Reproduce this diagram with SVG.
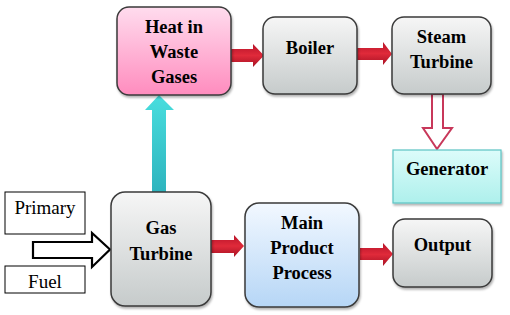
<svg xmlns="http://www.w3.org/2000/svg" width="510" height="315" viewBox="0 0 510 315">
<defs>
<linearGradient id="gGray" x1="0" y1="0" x2="0" y2="1"><stop offset="0" stop-color="#f6f6f6"/><stop offset="1" stop-color="#c6cbcb"/></linearGradient>
<linearGradient id="gPink" x1="0" y1="0" x2="0" y2="1"><stop offset="0" stop-color="#ffdcee"/><stop offset="1" stop-color="#ff8cbe"/></linearGradient>
<linearGradient id="gBlue" x1="0" y1="0" x2="0" y2="1"><stop offset="0" stop-color="#f2f8ff"/><stop offset="1" stop-color="#b6d6f6"/></linearGradient>
<linearGradient id="gCyanBox" x1="0" y1="0" x2="0" y2="1"><stop offset="0" stop-color="#dcfcfa"/><stop offset="1" stop-color="#aef0ec"/></linearGradient>
<linearGradient id="gCyan" x1="0" y1="0" x2="0" y2="1"><stop offset="0" stop-color="#48dede"/><stop offset="1" stop-color="#2eb4be"/></linearGradient>
<linearGradient id="gRed" x1="0" y1="0" x2="0" y2="1"><stop offset="0" stop-color="#b8142a"/><stop offset="0.5" stop-color="#e02a3a"/><stop offset="1" stop-color="#a81224"/></linearGradient>
<filter id="sh" x="-10%" y="-10%" width="130%" height="130%"><feDropShadow dx="1" dy="2" stdDeviation="1.2" flood-color="#000" flood-opacity="0.3"/></filter>
</defs>
<style>
.box{stroke:#3a3a3a;stroke-width:1.5;filter:url(#sh)}
.gray{fill:url(#gGray)}
text{font-family:'Liberation Serif','Times New Roman',Tinos,'DejaVu Serif',serif}
.t{font-weight:bold;font-size:18.5px;fill:#000;text-anchor:middle}
.r{font-size:19px;fill:#000;text-anchor:middle}
.red{fill:url(#gRed)}
</style>
<g id="connectors">
<polygon class="red" points="231,49 253,49 253,44 264,55.5 253,67 253,62 231,62"/>
<polygon class="red" points="357,48 383,48 383,42 392,54 383,65 383,60 357,60"/>
<polygon class="red" points="211,240 234,240 234,235 244,246 234,257 234,253 211,253"/>
<polygon class="red" points="360,248 383,248 383,243 393,254 383,266 383,260 360,260"/>
<polygon fill="url(#gCyan)" points="152,192 152,110 145,110 159,95 174,110 166,110 166,192"/>
<polygon fill="#fff" stroke="#c8385a" stroke-width="2" points="432,94 443,94 443,128 452,128 437,149 423,128 432,128"/>
<polygon fill="#fff" stroke="#000" stroke-width="2.2" points="33,242 92,242 92,233 110,249.5 92,267 92,258 33,258"/>
</g>
<g id="heat"><rect class="box" x="117" y="7" width="114" height="88" rx="12" fill="url(#gPink)" stroke="#b86080"/><text class="t" x="174" y="33">Heat in</text><text class="t" x="174" y="58">Waste</text><text class="t" x="174" y="83">Gases</text></g>
<g id="boiler"><rect class="box gray" x="263" y="17" width="94" height="77" rx="12"/><text class="t" x="310" y="54">Boiler</text></g>
<g id="steam"><rect class="box gray" x="392" y="17" width="99" height="77" rx="12"/><text class="t" x="441.5" y="43">Steam</text><text class="t" x="441.5" y="68">Turbine</text></g>
<g id="generator"><rect x="393" y="150" width="108" height="53" fill="url(#gCyanBox)" stroke="#5cc4c4" stroke-width="1.2" filter="url(#sh)"/><text class="t" x="447" y="175">Generator</text></g>
<g id="gas"><rect class="box gray" x="111" y="192" width="100" height="114" rx="14"/><text class="t" x="161" y="234">Gas</text><text class="t" x="161" y="260">Turbine</text></g>
<g id="main"><rect class="box" x="245" y="203" width="114" height="104" rx="14" fill="url(#gBlue)" stroke="#8eb6de"/><text class="t" x="302" y="229">Main</text><text class="t" x="302" y="254">Product</text><text class="t" x="302" y="279">Process</text></g>
<g id="output"><rect class="box gray" x="393" y="219" width="99" height="68" rx="12"/><text class="t" x="442.5" y="251">Output</text></g>
<g id="primary"><rect x="5" y="192" width="80" height="42" fill="#fff" stroke="#000" stroke-width="1"/><text class="r" x="45" y="214">Primary</text></g>
<g id="fuel"><rect x="5" y="266" width="80" height="27" fill="#fff" stroke="#000" stroke-width="1"/><text class="r" x="45" y="288">Fuel</text></g>
</svg>
